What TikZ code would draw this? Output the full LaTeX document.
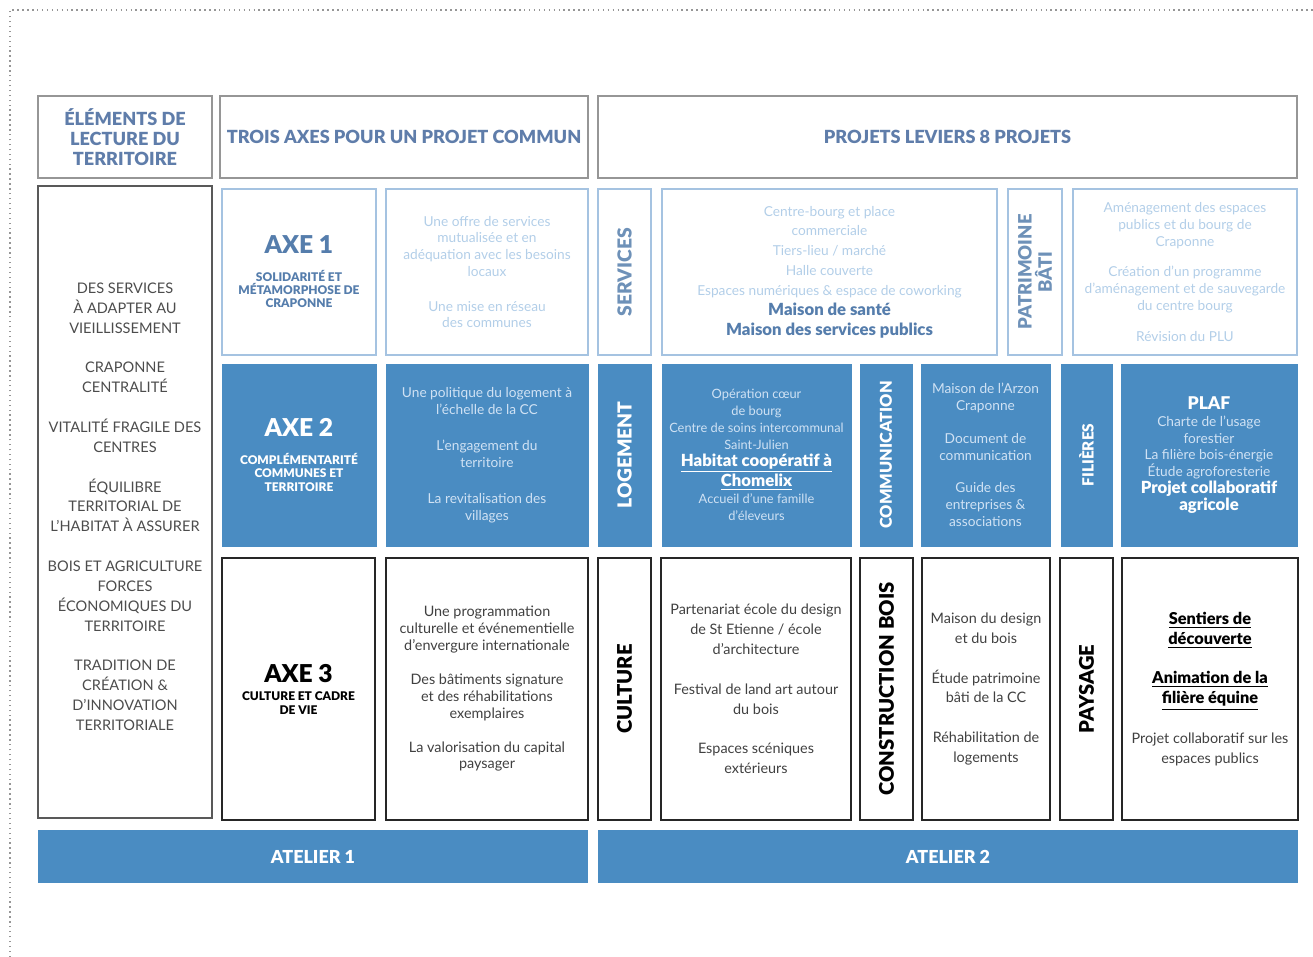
\documentclass[tikz,border=0pt]{standalone}
\usepackage{fontspec}
\setmainfont{Lato}
\newfontfamily\heavyfont{Lato Black}

\definecolor{headblue}{RGB}{95,125,170}
\definecolor{paleline}{RGB}{165,195,225}
\definecolor{paletext}{RGB}{178,206,232}
\definecolor{axeblue}{RGB}{85,125,172}
\definecolor{midblue}{RGB}{74,140,194}
\definecolor{softwhite}{RGB}{208,226,244}
\definecolor{framegray}{RGB}{150,150,150}

\begin{document}
\begin{tikzpicture}[
            x=0.02cm, y=-0.02cm,
            headbox/.style={draw=framegray, line width=1.1pt, text=headblue, align=center, inner sep=0pt,
                font=\fontsize{10.3}{11.3}\selectfont\heavyfont},
            leftbox/.style={draw=black!65, line width=1.3pt, text=black!70, align=center, inner sep=0pt,
                font=\fontsize{8.3}{11.3}\selectfont},
            palebox/.style={draw=paleline, line width=1pt, text=paletext, align=center, inner sep=0pt,
                font=\fontsize{7.8}{9.6}\selectfont},
            bluebox/.style={fill=midblue, draw=midblue, text=softwhite, align=center, inner sep=0pt,
                font=\fontsize{7.8}{9.6}\selectfont},
            darkbox/.style={draw=black!85, line width=1.2pt, text=black!75, align=center, inner sep=0pt,
                font=\fontsize{8.2}{11.3}\selectfont},
            axebox/.style={font=\fontsize{6.8}{7.6}\selectfont\heavyfont},
            vlabel/.style={rotate=90, align=center, font=\fontsize{11}{12}\selectfont\heavyfont},
            atelier/.style={fill=midblue, text=white, inner sep=0pt, font=\fontsize{10.2}{11}\selectfont\heavyfont},
            font=\small
        ]
        \useasboundingbox (0,0) rectangle (1313,957);
        
        % dotted page frame
        \draw[framegray, dotted, line width=0.8pt] (10,957) -- (10,10) -- (1313,10);
        
        % Headers
        \node[headbox, minimum width=3.48cm, minimum height=1.64cm] (lecture) at (125,137)
            {ÉLÉMENTS DE\\LECTURE DU\\TERRITOIRE};
        \node[headbox, minimum width=7.36cm, minimum height=1.64cm] (axes) at (404,137)
            {TROIS AXES POUR UN PROJET COMMUN};
        \node[headbox, minimum width=13.98cm, minimum height=1.64cm] (leviers) at (947.5,137)
            {PROJETS LEVIERS 8 PROJETS};
        
        % Elements de lecture
        \node[leftbox, minimum width=3.48cm, minimum height=12.64cm] (territoire) at (125,502)
            {\mbox{}\\
             DES SERVICES\\À ADAPTER AU\\VIEILLISSEMENT\\[11.3pt]
             CRAPONNE\\CENTRALITÉ\\[11.3pt]
             VITALITÉ FRAGILE DES\\CENTRES\\[11.3pt]
             ÉQUILIBRE\\TERRITORIAL DE\\L'HABITAT À ASSURER\\[11.3pt]
             BOIS ET AGRICULTURE\\FORCES\\ÉCONOMIQUES DU\\TERRITOIRE\\[11.3pt]
             TRADITION DE\\CRÉATION \&\\D'INNOVATION\\TERRITORIALE};
        
        % Axe 1 row
        \node[palebox, axebox, text=axeblue, minimum width=3.08cm, minimum height=3.32cm] (axe1) at (299,272)
            {{\fontsize{14}{16}\selectfont AXE 1}\\[8pt]
             SOLIDARITÉ ET\\MÉTAMORPHOSE DE\\CRAPONNE};
        \node[palebox, minimum width=4.04cm, minimum height=3.32cm] (axe1txt) at (487,272)
            {Une offre de services\\mutualisée et en\\adéquation avec les besoins\\locaux\\[10pt]
             Une mise en réseau\\des communes};
        \node[palebox, vlabel, text=axeblue!85, minimum width=3.32cm, minimum height=1.06cm] (services) at (624.5,272)
            {SERVICES};
        \node[palebox, font=\fontsize{7.8}{11.3}\selectfont, minimum width=6.7cm, minimum height=3.32cm] (servtxt) at (829.5,272)
            {Centre-bourg et place\\commerciale\\Tiers-lieu / marché\\Halle couverte\\Espaces numériques \& espace de coworking\\
             \textcolor{axeblue}{\fontsize{9.5}{11.3}\selectfont\heavyfont Maison de santé}\\
             \textcolor{axeblue}{\fontsize{9.5}{11.3}\selectfont\heavyfont Maison des services publics}};
        \node[palebox, vlabel, text=axeblue!85, font=\fontsize{10.5}{11.5}\selectfont\heavyfont,
              minimum width=3.32cm, minimum height=1.08cm] (patrimoine) at (1035,272)
            {PATRIMOINE\\BÂTI};
        \node[palebox, minimum width=4.48cm, minimum height=3.32cm] (patritxt) at (1185,272)
            {Aménagement des espaces\\publics et du bourg de\\Craponne\\[8pt]
             Création d'un programme\\d'aménagement et de sauvegarde\\du centre bourg\\[8pt]
             Révision du PLU};
        
        % Axe 2 row
        \node[bluebox, axebox, text=white, minimum width=3.08cm, minimum height=3.64cm] (axe2) at (299,455)
            {{\fontsize{14}{16}\selectfont AXE 2}\\[8pt]
             COMPLÉMENTARITÉ\\COMMUNES ET\\TERRITOIRE};
        \node[bluebox, minimum width=4.04cm, minimum height=3.64cm] (axe2txt) at (487,455)
            {Une politique du logement à\\l'échelle de la CC\\[11pt]
             L'engagement du\\territoire\\[11pt]
             La revitalisation des\\villages};
        \node[bluebox, vlabel, text=white, minimum width=3.64cm, minimum height=1.06cm] (logement) at (624.5,455)
            {LOGEMENT};
        \node[bluebox, font=\fontsize{7.3}{9.6}\selectfont, minimum width=3.78cm, minimum height=3.64cm] (logtxt) at (756.5,455)
            {Opération cœur\\de bourg\\Centre de soins intercommunal\\Saint-Julien\\
             \textcolor{white}{\fontsize{9.5}{9.6}\selectfont\heavyfont\underline{Habitat coopératif à}}\\
             \textcolor{white}{\fontsize{9.5}{9.6}\selectfont\heavyfont\underline{Chomelix}}\\
             Accueil d'une famille\\d'éleveurs};
        \node[bluebox, vlabel, text=white, font=\fontsize{9.3}{10}\selectfont\heavyfont,
              minimum width=3.64cm, minimum height=1.04cm] (communication) at (886,455)
            {COMMUNICATION};
        \node[bluebox, minimum width=2.58cm, minimum height=3.64cm] (commtxt) at (985.5,455)
            {Maison de l'Arzon\\Craponne\\[9pt]
             Document de\\communication\\[9pt]
             Guide des\\entreprises \&\\associations};
        \node[bluebox, vlabel, text=white, font=\fontsize{8.8}{9}\selectfont\heavyfont,
              minimum width=3.64cm, minimum height=1.02cm] (filieres) at (1086.5,455)
            {FILIÈRES};
        \node[bluebox, minimum width=3.52cm, minimum height=3.64cm] (filtxt) at (1209,455)
            {\textcolor{white}{\fontsize{10}{11}\selectfont\heavyfont PLAF}\\
             Charte de l'usage\\forestier\\
             La filière bois-énergie\\
             Étude agroforesterie\\
             \textcolor{white}{\fontsize{9.5}{9.6}\selectfont\heavyfont Projet collaboratif}\\
             \textcolor{white}{\fontsize{9.5}{9.6}\selectfont\heavyfont agricole}};
        
        % Axe 3 row
        \node[darkbox, axebox, text=black, minimum width=3.06cm, minimum height=5.24cm] (axe3) at (298.5,689)
            {{\fontsize{14}{16}\selectfont AXE 3}\\[3pt]
             CULTURE ET CADRE\\DE VIE};
        \node[darkbox, font=\fontsize{8.2}{9.5}\selectfont, minimum width=4.04cm, minimum height=5.24cm] (axe3txt) at (487,689)
            {Une programmation\\culturelle et événementielle\\d'envergure internationale\\[10pt]
             Des bâtiments signature\\et des réhabilitations\\exemplaires\\[10pt]
             La valorisation du capital\\paysager};
        \node[darkbox, vlabel, text=black, font=\fontsize{11.5}{12}\selectfont\heavyfont,
              minimum width=5.24cm, minimum height=1.06cm] (culture) at (624.5,689)
            {CULTURE};
        \node[darkbox, minimum width=3.8cm, minimum height=5.24cm] (culttxt) at (756,689)
            {Partenariat école du design\\de St Etienne / école\\d'architecture\\[11.3pt]
             Festival de land art autour\\du bois\\[11.3pt]
             Espaces scéniques\\extérieurs};
        \node[darkbox, vlabel, text=black, font=\fontsize{11.5}{12}\selectfont\heavyfont,
              minimum width=5.24cm, minimum height=1.06cm] (bois) at (886.5,689)
            {CONSTRUCTION BOIS};
        \node[darkbox, minimum width=2.56cm, minimum height=5.24cm] (boistxt) at (986,689)
            {Maison du design\\et du bois\\[11.3pt]
             Étude patrimoine\\bâti de la CC\\[11.3pt]
             Réhabilitation de\\logements};
        \node[darkbox, vlabel, text=black, font=\fontsize{11.5}{12}\selectfont\heavyfont,
              minimum width=5.24cm, minimum height=1.06cm] (paysage) at (1086.5,689)
            {PAYSAGE};
        \node[darkbox, minimum width=3.52cm, minimum height=5.24cm] (paystxt) at (1210,689)
            {\textcolor{black}{\fontsize{9.3}{11.3}\selectfont\heavyfont\underline{Sentiers de}}\\
             \textcolor{black}{\fontsize{9.3}{11.3}\selectfont\heavyfont\underline{découverte}}\\[11.3pt]
             \textcolor{black}{\fontsize{9.3}{11.3}\selectfont\heavyfont\underline{Animation de la}}\\
             \textcolor{black}{\fontsize{9.3}{11.3}\selectfont\heavyfont\underline{filière équine}}\\[11.3pt]
             Projet collaboratif sur les\\espaces publics};
        
        % Ateliers
        \node[atelier, minimum width=11cm, minimum height=1.06cm] (atelier1) at (313,856.5) {ATELIER 1};
        \node[atelier, minimum width=14cm, minimum height=1.06cm] (atelier2) at (948,856.5) {ATELIER 2};
        
        \end{tikzpicture}
\end{document}
